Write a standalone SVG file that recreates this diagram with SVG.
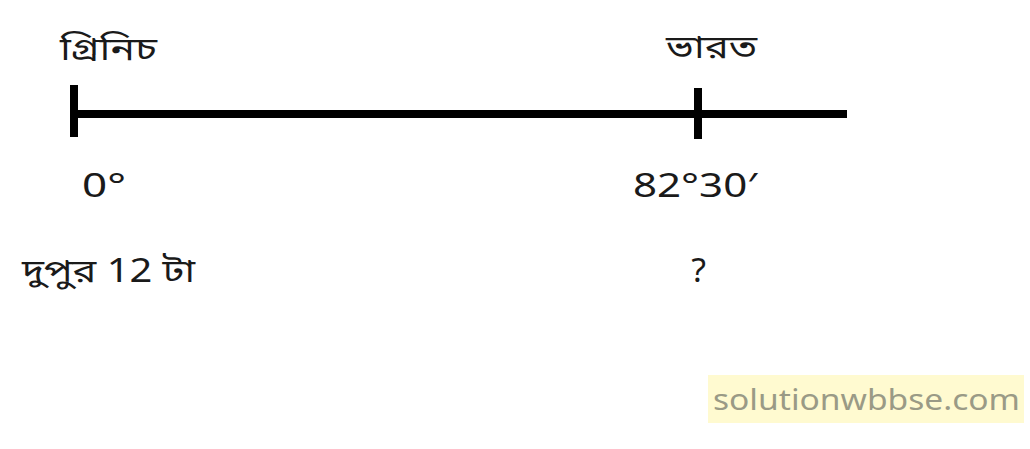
<svg xmlns="http://www.w3.org/2000/svg" width="1030" height="449" viewBox="0 0 1030 449">
<style>
.t{font-family:"Noto Sans Bengali","Noto Sans","DejaVu Sans",sans-serif;font-size:32px;fill:#1a1a1a}
.bar{stroke:#000;stroke-width:8;fill:none}
.wm{font-family:"Noto Sans","Open Sans",sans-serif;font-size:29px;fill:#9a9a86}
</style>
<rect width="1030" height="449" fill="#fff"/>
<g id="connectors">
<line class="bar" x1="72" y1="114" x2="847" y2="114"/>
</g>
<g id="greenwich">
<line class="bar" x1="74" y1="85" x2="74" y2="137"/>
<text class="t" x="60" y="60" textLength="97" lengthAdjust="spacingAndGlyphs">গ্রিনিচ</text>
<text class="t" x="82" y="197" textLength="44" lengthAdjust="spacingAndGlyphs">0°</text>
<text class="t" x="22" y="282" textLength="173" lengthAdjust="spacingAndGlyphs">দুপুর 12 টা</text>
</g>
<g id="india">
<line class="bar" x1="698" y1="88" x2="698" y2="139"/>
<text class="t" x="666" y="58" textLength="91" lengthAdjust="spacingAndGlyphs">ভারত</text>
<text class="t" x="633" y="197" textLength="124" lengthAdjust="spacingAndGlyphs">82°30′</text>
<text class="t" x="690" y="282" textLength="17" lengthAdjust="spacingAndGlyphs">?</text>
</g>
<g id="watermark">
<rect x="708" y="375" width="316" height="48" fill="#fffad0"/>
<text class="wm" x="713" y="410" textLength="307" lengthAdjust="spacingAndGlyphs">solutionwbbse.com</text>
</g>
</svg>
